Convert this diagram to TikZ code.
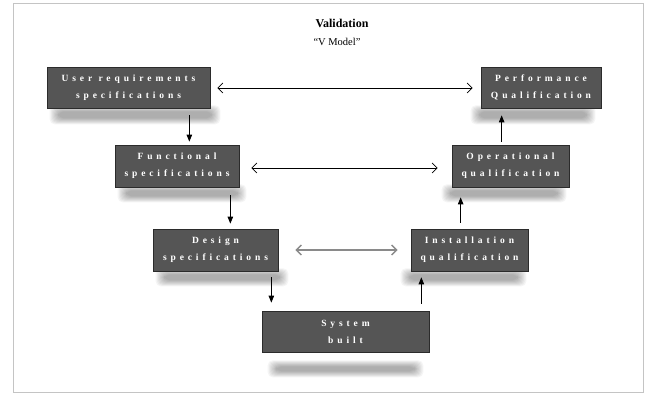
\documentclass[tikz,border=0pt]{standalone}
\usepackage{fontspec}
\setmainfont{Liberation Serif}
\usetikzlibrary{arrows.meta,calc,backgrounds}
\definecolor{boxfill}{HTML}{555555}
\definecolor{boxline}{HTML}{2B2B2B}
\definecolor{framegray}{HTML}{C4C4C4}
\definecolor{arrgray}{HTML}{8A8A8A}
\newcommand{\shadeband}[2]{%
  \foreach \k in {0,...,8} {\fill[black,opacity=0.04,rounded corners=5pt] ($#1+(\k*1.1,\k*0.75)$) rectangle ($#2+(-\k*1.1,-\k*0.75)$);}}
\tikzset{
  vbox/.style={draw=boxline, line width=0.7pt, fill=boxfill, text=white,
    font=\bfseries\fontsize{9.5}{17}\selectfont\addfontfeature{LetterSpace=41},
    align=center, inner sep=0pt, minimum height=41pt},
  varr/.style={draw=black, line width=0.8pt, -{Triangle[length=7pt,width=5.5pt]}},
  harr/.style={draw=black, line width=0.7pt, {Straight Barb[length=5pt,width=10pt]}-{Straight Barb[length=5pt,width=10pt]}},
  harrgray/.style={draw=arrgray, line width=1.4pt, {Straight Barb[length=5pt,width=10pt]}-{Straight Barb[length=5pt,width=10pt]}},
}
\begin{document}
\begin{tikzpicture}[x=1pt,y=-1pt]
\useasboundingbox (0,0) rectangle (657,403);
% title
\node[font=\bfseries\fontsize{12}{14}\selectfont, anchor=base, inner sep=0pt] (title) at (342,28) {Validation};
\node[font=\fontsize{10.5}{12}\selectfont, anchor=base, inner sep=0pt] (sub) at (337,46) {“V Model”};
% boxes
\node[vbox,minimum width=163pt] (ur) at (128.5,87.5) {User requirements\\specifications};
\node[vbox,minimum width=124pt,minimum height=42pt] (fs) at (177,166) {Functional\\specifications};
\node[vbox,minimum width=125pt,minimum height=42pt] (ds) at (215.5,250) {Design\\specifications};
\node[vbox,minimum width=167pt] (sb) at (345.5,331.5) {System\\built};
\node[vbox,minimum width=117pt,minimum height=42pt] (iq) at (469.5,250) {Installation\\qualification};
\node[vbox,minimum width=117pt,minimum height=42pt] (oq) at (510.5,166) {Operational\\qualification};
\node[vbox,minimum width=120pt] (pq) at (541,87.5) {Performance\\Qualification};
% horizontal double arrows
\draw[harr] ($(ur.east)+(7,0.5)$) -- ($(pq.west)+(-8,0.5)$);
\draw[harr] ($(fs.east)+(12,2)$) -- ($(oq.west)+(-14,2)$);
\draw[harrgray] ($(ds.east)+(17,0)$) -- ($(iq.west)+(-13,0)$);
% vertical arrows
\coordinate (v1) at ($(ur.south east)+(-21,7)$);
\draw[varr] (v1) -- ($(v1 |- fs.north)+(0,-3)$);
\coordinate (v2) at ($(fs.south east)+(-9,8)$);
\draw[varr] (v2) -- ($(v2 |- ds.north)+(0,-5)$);
\coordinate (v3) at ($(ds.south east)+(-7,6)$);
\draw[varr] (v3) -- ($(v3 |- sb.north)+(0,-8)$);
\coordinate (v4) at ($(sb.north east)+(-8,-7)$);
\draw[varr] (v4) -- ($(v4 |- iq.south)+(0,6)$);
\coordinate (v5) at ($(iq.north west)+(50,-6)$);
\draw[varr] (v5) -- ($(v5 |- oq.south)+(0,10)$);
\coordinate (v6) at ($(oq.north west)+(50,-3)$);
\draw[varr] (v6) -- ($(v6 |- pq.south)+(0,7)$);
% background: page, frame, shadows
\begin{pgfonlayer}{background}
\fill[white] (0,0) rectangle (657,403);
\draw[framegray, line width=1pt] (13.5,3.5) rectangle (643.5,392.5);
\shadeband{(ur.south west)+(3,-3)}{(ur.south east)+(10,16)}
\shadeband{(fs.south west)+(3,-3)}{(fs.south east)+(7,15)}
\shadeband{(ds.south west)+(3,-3)}{(ds.south east)+(10,15)}
\shadeband{(sb.south west)+(6,8)}{(sb.south east)+(-6,25)}
\shadeband{(iq.south west)+(-10,-3)}{(iq.south east)+(-2,15)}
\shadeband{(oq.south west)+(-10,-3)}{(oq.south east)+(-3,15)}
\shadeband{(pq.south west)+(-10,-3)}{(pq.south east)+(-6,16)}
\end{pgfonlayer}
\end{tikzpicture}
\end{document}
